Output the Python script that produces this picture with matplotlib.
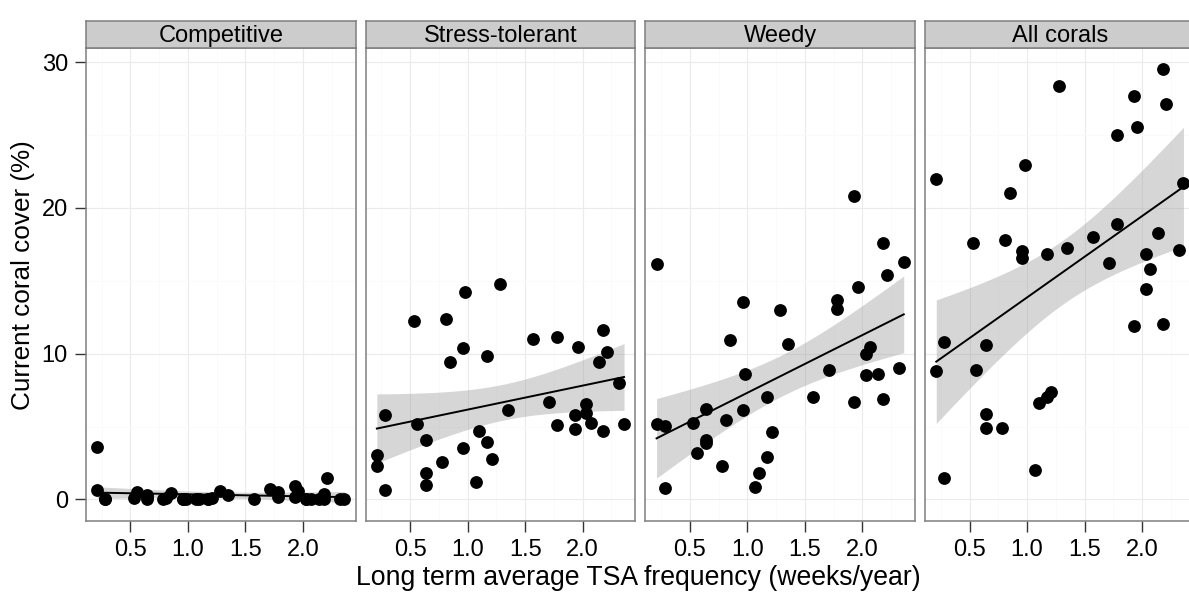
import numpy as np
import matplotlib
matplotlib.use("Agg")
import matplotlib.pyplot as plt

plt.rcParams["font.family"] = ["Liberation Sans", "DejaVu Sans"]

# long term average TSA frequency per site (weeks/year), shared by all panels
tsa = [0.21, 0.21, 0.28, 0.28, 0.53, 0.56, 0.64, 0.64, 0.64, 0.78,
       0.81, 0.85, 0.96, 0.96, 0.98, 1.07, 1.10, 1.17, 1.17, 1.21,
       1.28, 1.35, 1.57, 1.71, 1.78, 1.78, 1.93, 1.93, 1.96, 2.03,
       2.03, 2.07, 2.14, 2.18, 2.18, 2.21, 2.32, 2.36]

panels = ["Competitive", "Stress-tolerant", "Weedy", "All corals"]

competitive = [3.58, 0.64, 0.0, 0.0, 0.1, 0.5, 0.2, 0.0, 0.3, 0.0,
               0.1, 0.45, 0.0, 0.0, 0.05, 0.0, 0.0, 0.0, 0.05, 0.1,
               0.6, 0.3, 0.0, 0.7, 0.5, 0.2, 0.9, 0.15, 0.6, 0.0,
               0.0, 0.0, 0.05, 0.35, 0.05, 1.45, 0.0, 0.0]
stress_tolerant = [3.05, 2.32, 5.80, 0.64, 12.27, 5.18, 4.06, 1.83, 0.99, 2.59,
                   12.36, 9.45, 10.39, 3.53, 14.24, 1.17, 4.70, 9.86, 3.92, 2.78,
                   14.79, 6.17, 11.01, 6.67, 11.15, 5.11, 4.82, 5.80, 10.44, 6.56,
                   5.92, 5.23, 9.40, 11.61, 4.68, 10.14, 7.98, 5.21]
weedy = [16.17, 5.18, 5.05, 0.76, 5.28, 3.17, 6.19, 4.08, 3.90, 2.32,
         5.46, 10.94, 6.15, 13.53, 8.60, 0.85, 1.79, 7.02, 2.94, 4.63,
         13.00, 10.67, 7.00, 8.90, 13.65, 13.07, 20.80, 6.72, 14.61, 9.98,
         8.51, 10.44, 8.60, 17.59, 6.86, 15.41, 9.01, 16.26]
all_corals = [21.99, 8.78, 10.83, 1.49, 17.61, 8.90, 10.57, 5.85, 4.89, 4.93,
              17.78, 20.99, 17.04, 16.58, 22.96, 2.02, 6.63, 16.81, 7.00, 7.36,
              28.35, 17.22, 18.00, 16.24, 25.00, 18.88, 27.71, 11.88, 25.57, 16.86,
              14.47, 15.83, 18.30, 29.50, 12.06, 27.16, 17.11, 21.74]
cover = [competitive, stress_tolerant, weedy, all_corals]


def lm_band(x, y, n=80, t=2.028):
    """Linear fit with 95% confidence band, like geom_smooth(method='lm')."""
    x, y = np.asarray(x), np.asarray(y)
    b, a = np.polyfit(x, y, 1)
    resid = y - (a + b * x)
    s = np.sqrt(np.sum(resid ** 2) / (len(x) - 2))
    xs = np.linspace(x.min(), x.max(), n)
    se = s * np.sqrt(1 / len(x) + (xs - x.mean()) ** 2 / np.sum((x - x.mean()) ** 2))
    fit = a + b * xs
    return xs, fit, fit - t * se, fit + t * se


W, H = 1189, 597
fig = plt.figure(figsize=(W / 100, H / 100), dpi=100)

left0, step, pw = 86, 279.7, 269.5
bottom, top, strip_h = 521, 48, 27

for i, (name, ys) in enumerate(zip(panels, cover)):
    l = (left0 + i * step) / W
    ax = fig.add_axes([l, (H - bottom) / H, pw / W, (bottom - top) / H])
    ax.set_xlim(0.113, 2.457)
    ax.set_ylim(-1.475, 30.97)
    ax.set_xticks([0.5, 1.0, 1.5, 2.0])
    ax.set_xticks([0.25, 0.75, 1.25, 1.75, 2.25], minor=True)
    ax.set_yticks([0, 10, 20, 30])
    ax.set_yticks([5, 15, 25], minor=True)
    ax.grid(which="major", color="#EBEBEB", lw=0.8)
    ax.grid(which="minor", color="#FAFAFA", lw=0.6)
    ax.set_axisbelow(True)
    for sp in ax.spines.values():
        sp.set_color("#7F7F7F")
        sp.set_linewidth(1.1)
    ax.tick_params(which="major", length=8, width=1.0, color="#333333",
                   labelsize=17, pad=5, labelcolor="black")
    ax.tick_params(which="minor", length=0)
    if i > 0:
        ax.tick_params(axis="y", which="both", left=False, labelleft=False)

    xs, fit, lo, hi = lm_band(tsa, ys)
    ax.fill_between(xs, lo, hi, color="#999999", alpha=0.4, lw=0, zorder=2)
    ax.plot(xs, fit, color="black", lw=1.4, zorder=3)
    ax.scatter(tsa, ys, s=85, color="black", lw=0, zorder=4, clip_on=False)

    sax = fig.add_axes([l, (H - top) / H, pw / W, strip_h / H])
    sax.set_facecolor("#CCCCCC")
    sax.set_xticks([])
    sax.set_yticks([])
    for sp in sax.spines.values():
        sp.set_color("#7F7F7F")
        sp.set_linewidth(1.1)
    sax.text(0.5, 0.45, name, ha="center", va="center", fontsize=17,
             transform=sax.transAxes)

fig.text(638 / W, 1 - 578 / H, "Long term average TSA frequency (weeks/year)",
         ha="center", va="center", fontsize=19.2)
fig.text(23 / W, 1 - 275 / H, "Current coral cover (%)", rotation=90,
         ha="center", va="center", fontsize=18.8)

fig.savefig("out.png", dpi=100)
